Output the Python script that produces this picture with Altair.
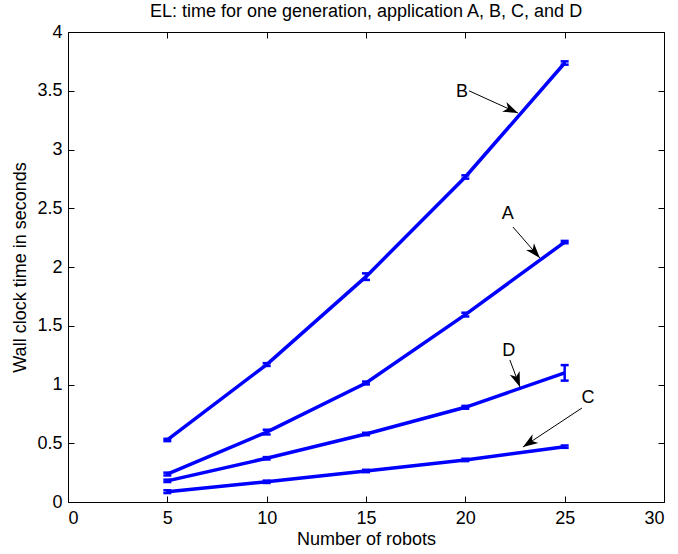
import math
import altair as alt
import pandas as pd

# Wall clock time per generation for applications A-D
robots = [5, 10, 15, 20, 25]
time_a = [0.238, 0.595, 1.013, 1.595, 2.212]
time_b = [0.528, 1.170, 1.918, 2.766, 3.736]
time_c = [0.088, 0.172, 0.264, 0.358, 0.471]
time_d = [0.180, 0.372, 0.579, 0.806, 1.099]
# half-width of the error bars
err_a = [0.012, 0.020, 0.012, 0.016, 0.010]
err_b = [0.010, 0.012, 0.028, 0.014, 0.014]
err_c = [0.012, 0.010, 0.010, 0.010, 0.010]
err_d = [0.010, 0.010, 0.010, 0.012, 0.066]

# arrow annotations
label_text = ["B", "A", "D", "C"]
label_x = [19.83, 22.14, 22.19, 26.17]
label_y = [3.49, 2.45, 1.285, 0.885]
arrow_x0 = [20.18, 22.40, 22.24, 25.87]
arrow_y0 = [3.50, 2.34, 1.209, 0.80]
arrow_x1 = [22.65, 23.75, 22.75, 22.90]
arrow_y1 = [3.31, 2.077, 0.979, 0.468]

TITLE = "EL: time for one generation, application A, B, C, and D"

W, H = 596, 470
X_MAX, Y_MAX = 30, 4
FONT = "Liberation Sans"
BLUE = "#0000FF"

rows = []
for name, vals, errs in [("A", time_a, err_a), ("B", time_b, err_b),
                         ("C", time_c, err_c), ("D", time_d, err_d)]:
    for r, v, e in zip(robots, vals, errs):
        rows.append({"series": name, "robots": r, "time": v,
                     "lo": v - e, "hi": v + e})
df = pd.DataFrame(rows)

# screen-space direction of each arrow -> rotation of the head glyph
sx, sy = W / X_MAX, H / Y_MAX
angles = []
for x0, y0, x1, y1 in zip(arrow_x0, arrow_y0, arrow_x1, arrow_y1):
    a = math.degrees(math.atan2((x1 - x0) * sx, (y1 - y0) * sy)) % 360
    angles.append(a)
ann = pd.DataFrame({"label": label_text, "lx": label_x, "ly": label_y,
                    "x0": arrow_x0, "y0": arrow_y0, "x1": arrow_x1,
                    "y1": arrow_y1, "ang": angles})

xs = alt.Scale(domain=[0, X_MAX], nice=False)
ys = alt.Scale(domain=[0, Y_MAX], nice=False)
x_ticks = [0, 5, 10, 15, 20, 25, 30]
y_ticks = [0, 0.5, 1, 1.5, 2, 2.5, 3, 3.5, 4]

ax_bottom = alt.Axis(orient="bottom", values=x_ticks, offset=-6, domain=False,
                     tickSize=6, labelPadding=7, title="Number of robots",
                     titlePadding=3)
ax_left = alt.Axis(orient="left", values=y_ticks, offset=-6, domain=False,
                   tickSize=6, labelPadding=6, format="~g",
                   title="Wall clock time in seconds", titlePadding=7)
ax_top = alt.Axis(orient="top", values=x_ticks, offset=-6, domain=False,
                  tickSize=6, labels=False, title=None)
ax_right = alt.Axis(orient="right", values=y_ticks, offset=-6, domain=False,
                    tickSize=6, labels=False, title=None)

lines = alt.Chart(df).mark_line(color=BLUE, strokeWidth=3.5).encode(
    x=alt.X("robots:Q", scale=xs, axis=ax_bottom),
    y=alt.Y("time:Q", scale=ys, axis=ax_left),
    detail="series:N",
)

bars = alt.Chart(df).mark_rule(color=BLUE, strokeWidth=2.5).encode(
    x=alt.X("robots:Q", scale=xs, axis=ax_top),
    y=alt.Y("lo:Q", scale=ys, axis=ax_right),
    y2="hi:Q",
)

caps_lo = alt.Chart(df).mark_tick(color=BLUE, orient="horizontal", size=8,
                                  thickness=2.5, opacity=1).encode(
    x=alt.X("robots:Q", scale=xs, axis=None),
    y=alt.Y("lo:Q", scale=ys, axis=None),
)
caps_hi = alt.Chart(df).mark_tick(color=BLUE, orient="horizontal", size=8,
                                  thickness=2.5, opacity=1).encode(
    x=alt.X("robots:Q", scale=xs, axis=None),
    y=alt.Y("hi:Q", scale=ys, axis=None),
)

arrow_lines = alt.Chart(ann).mark_rule(color="black", strokeWidth=1).encode(
    x=alt.X("x0:Q", scale=xs, axis=None),
    y=alt.Y("y0:Q", scale=ys, axis=None),
    x2="x1:Q",
    y2="y1:Q",
)

HEAD = "M0,0 L0.7,2 L0,1.45 L-0.7,2 Z"
arrow_heads = alt.Chart(ann).mark_point(
    shape=HEAD, filled=True, color="black", opacity=1, size=225, strokeWidth=0
).encode(
    x=alt.X("x1:Q", scale=xs, axis=None),
    y=alt.Y("y1:Q", scale=ys, axis=None),
    angle=alt.Angle("ang:Q", scale=None),
)

labels = alt.Chart(ann).mark_text(
    font=FONT, fontSize=18, color="black", align="center", baseline="middle"
).encode(
    x=alt.X("lx:Q", scale=xs, axis=None),
    y=alt.Y("ly:Q", scale=ys, axis=None),
    text="label:N",
)

# chart heading, set just above the plot frame
heading = alt.Chart(pd.DataFrame({"t": [TITLE]})).mark_text(
    font=FONT, fontSize=18, color="black", align="center",
    baseline="alphabetic"
).encode(
    x=alt.value(W / 2),
    y=alt.value(-15),
    text="t:N",
)

chart = alt.layer(
    lines, bars, caps_lo, caps_hi, arrow_lines, arrow_heads, labels, heading
).resolve_axis(
    x="independent", y="independent"
).properties(
    width=W,
    height=H,
    background="white",
    padding={"left": 68, "top": 32, "right": 14, "bottom": 52},
    autosize=alt.AutoSizeParams(type="none"),
).configure_view(
    stroke="black", strokeWidth=1
).configure_axis(
    grid=False,
    labelFont=FONT, labelFontSize=18, labelColor="black",
    titleFont=FONT, titleFontSize=18, titleFontWeight="normal",
    titleColor="black", tickColor="black", tickWidth=1,
)

chart.save("out.html", embed_options={"renderer": "svg", "actions": False})
